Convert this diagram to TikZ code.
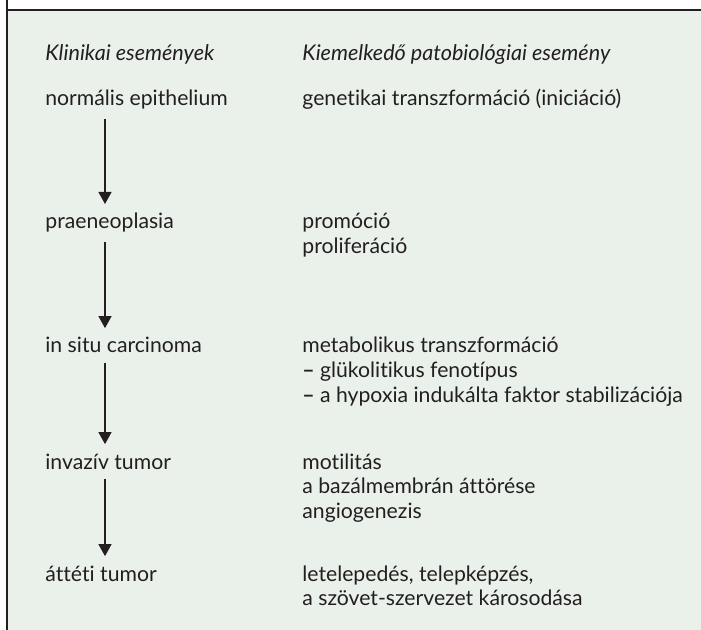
\documentclass[tikz,border=0pt]{standalone}
\usepackage{fontspec}
\setmainfont{Lato}[Ligatures=NoCommon]
\usepackage{xcolor}
\usepackage{tikz}
\usetikzlibrary{arrows.meta,positioning}
\definecolor{inkc}{HTML}{231F20}
\definecolor{panelbg}{HTML}{EAF1EB}
\newcommand{\sorok}[1]{\begin{tabular}[t]{@{}l@{}}#1\end{tabular}}
\tikzset{
  ar/.style={-{Triangle[length=6pt,width=6.5pt]},line width=0.65pt,inkc},
  lbl/.style={anchor=base west,inner xsep=0pt,inner ysep=4.5pt,text=inkc,
    font=\fontsize{10.6pt}{12.4pt}\selectfont},
  hdr/.style={lbl,font=\fontsize{10.8pt}{12.4pt}\selectfont\itshape},
  rule/.style={line width=0.75pt,inkc}
}
\begin{document}
\begin{tikzpicture}[x=0.5pt,y=-0.5pt]
\useasboundingbox (0,0) rectangle (701,630);
\fill[white] (0,0) rectangle (701,630);
\fill[panelbg] (7,10) rectangle (701,630);
\draw[rule] (7,10)--(701,10);
\draw[rule] (7,0)--(7,630);
\coordinate (ax) at (105,0);
% oszlopfejek
\node[hdr] (hl) at (45,61) {Klinikai események};
\node[hdr] (hr) at (302,61) {Kiemelkedő patobiológiai esemény};
% klinikai események
\node[lbl] (norm) at (45,106) {normális epithelium};
\node[lbl] (prae) at (45,229) {praeneoplasia};
\node[lbl] (insitu) at (45,353) {in situ carcinoma};
\node[lbl] (inv) at (45,469) {invazív tumor};
\node[lbl] (attet) at (45,581) {áttéti tumor};
% patobiológiai események
\node[lbl] (gen) at (302,106) {genetikai transzformáció (iniciáció)};
\node[lbl] (prom) at (302,229) {\sorok{promóció\\proliferáció}};
\node[lbl] (metab) at (302,353) {\sorok{metabolikus transzformáció\\\textbf{–} glükolitikus fenotípus\\\textbf{–} a hypoxia indukálta faktor stabilizációja}};
\node[lbl] (motil) at (302,469) {\sorok{motilitás\\a bazálmembrán áttörése\\angiogenezis}};
\node[lbl] (telep) at (302,581) {\sorok{letelepedés, telepképzés,\\a szövet-szervezet károsodása}};
% nyilak
\draw[ar] (norm.south -| ax) -- (prae.north -| ax);
\draw[ar] (prae.south -| ax) -- (insitu.north -| ax);
\draw[ar] (insitu.south -| ax) -- (inv.north -| ax);
\draw[ar] (inv.south -| ax) -- (attet.north -| ax);
\end{tikzpicture}
\end{document}
